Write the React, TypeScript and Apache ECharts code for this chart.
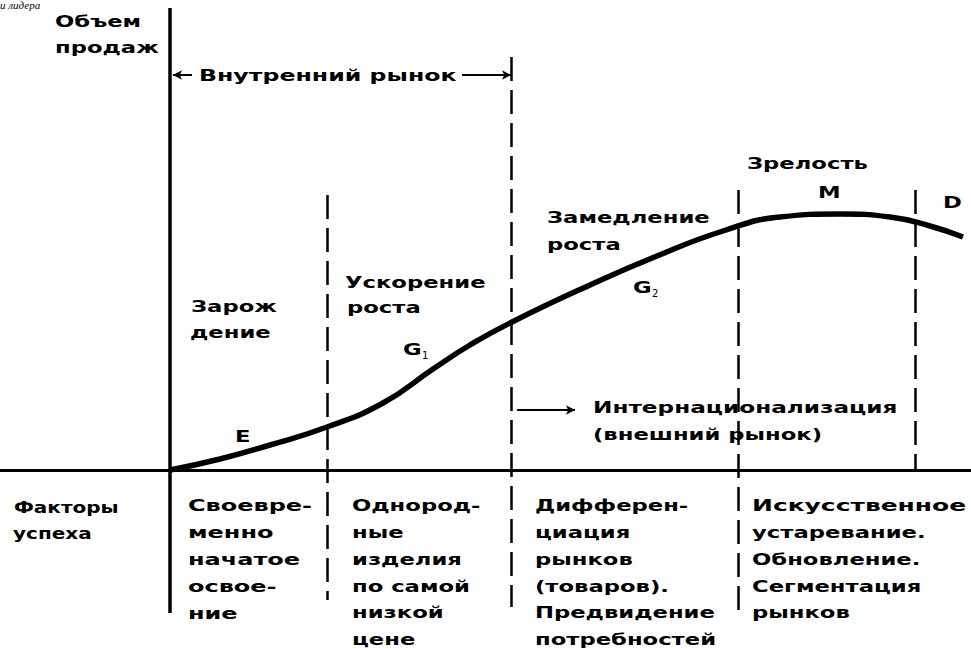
import { useEffect, useRef } from "react";
import * as echarts from "echarts";

// ---- data (time units along x, sales volume along y) ----
const timeT = [0, 0.5, 1.0, 1.57, 2.13, 2.63, 3.0, 3.42, 4.2, 4.87, 5.53, 6.1, 6.7, 7.2, 7.6, 7.93];
const salesVolume = [0, 0.11, 0.25, 0.43, 0.67, 1.01, 1.25, 1.48, 1.85, 2.14, 2.39, 2.53, 2.56, 2.53, 2.44, 2.33];
const stageBounds = [1.57, 3.41, 5.68, 7.45];
const axisTitle = ["Объем", "продаж"];
const stageEmbryo = ["Зарож", "дение"];
const stageGrowth1 = ["Ускорение", "роста"];
const stageGrowth2 = ["Замедление", "роста"];
const stageMaturity = "Зрелость";
const phaseLetters = ["E", "G", "G", "M", "D"];
const phaseSubscripts = ["1", "2"];
const domesticMarket = "Внутренний рынок";
const foreignMarket = ["Интернационализация", "(внешний рынок)"];
const factorsTitle = ["Факторы", "успеха"];
const factorColumns = [
  ["Своевре-", "менно", "начатое", "освое-", "ние"],
  ["Однород-", "ные", "изделия", "по самой", "низкой", "цене"],
  ["Дифферен-", "циация", "рынков", "(товаров).", "Предвидение", "потребностей"],
  ["Искусственное", "устаревание.", "Обновление.", "Сегментация", "рынков"],
];
const captionFragment = "и лидера";

const FONT = "'DejaVu Sans', sans-serif";
const SX = 1.42;

function txt(text: string, x: number, y: number, extra: any = {}) {
  return {
    type: "text",
    x,
    y,
    scaleX: extra.scaleX ?? SX,
    silent: true,
    style: {
      text,
      fill: "#000",
      fontFamily: extra.fontFamily ?? FONT,
      fontWeight: extra.fontWeight ?? "bold",
      fontStyle: extra.fontStyle ?? "normal",
      fontSize: extra.fontSize ?? 16,
      align: "left",
      verticalAlign: "middle",
    },
  };
}

export default function App() {
  const ref = useRef<HTMLDivElement>(null);
  useEffect(() => {
    if (!ref.current) return;
    const chart = echarts.init(ref.current, null, { renderer: "svg" });
    const dash = [24, 9];
    const vLine = (t: number, top: number, bottom: number, solid = false) => [
      { coord: [t, top], lineStyle: { color: "#000", width: solid ? 3.5 : 2.5, type: solid ? "solid" : dash } },
      { coord: [t, bottom] },
    ];
    const arrow = (t1: number, t2: number, s: number) => [
      { coord: [t1, s], symbol: "none", lineStyle: { color: "#000", width: 2, type: "solid" } },
      { coord: [t2, s], symbol: "arrow", symbolSize: [7, 9] },
    ];

    const graphics: any[] = [];
    graphics.push(txt(captionFragment, 0, 5, { fontFamily: "'Liberation Serif', serif", fontStyle: "italic", fontWeight: "normal", fontSize: 11, scaleX: 1 }));
    graphics.push(txt(axisTitle[0], 55, 22));
    graphics.push(txt(axisTitle[1], 55, 48));
    graphics.push(txt(domesticMarket, 199, 75, { scaleX: 1.48 }));
    graphics.push(txt(stageEmbryo[0], 191, 307));
    graphics.push(txt(stageEmbryo[1], 190, 333));
    graphics.push(txt(stageGrowth1[0], 345, 283));
    graphics.push(txt(stageGrowth1[1], 347, 308));
    graphics.push(txt(stageGrowth2[0], 547, 218));
    graphics.push(txt(stageGrowth2[1], 547, 245));
    graphics.push(txt(stageMaturity, 747, 164));
    graphics.push(txt(phaseLetters[0], 235, 437));
    graphics.push(txt(phaseLetters[1], 403, 350));
    graphics.push(txt(phaseSubscripts[0], 422, 355, { fontSize: 10, fontWeight: "normal", scaleX: 1 }));
    graphics.push(txt(phaseLetters[2], 633, 288));
    graphics.push(txt(phaseSubscripts[1], 652, 293, { fontSize: 10, fontWeight: "normal", scaleX: 1 }));
    graphics.push(txt(phaseLetters[3], 818, 193));
    graphics.push(txt(phaseLetters[4], 943, 203));
    graphics.push(txt(foreignMarket[0], 593, 408, { scaleX: 1.45 }));
    graphics.push(txt(foreignMarket[1], 593, 435));
    graphics.push(txt(factorsTitle[0], 14, 507, { scaleX: 1.25 }));
    graphics.push(txt(factorsTitle[1], 13, 533, { scaleX: 1.25 }));
    const colX = [188, 352, 535, 752];
    factorColumns.forEach((col, ci) => {
      col.forEach((line, ri) => {
        const sx = ci === 3 && ri === 0 ? 1.56 : ci === 0 ? 1.5 : SX;
        graphics.push(txt(line, colX[ci], 506 + ri * 26.8, { scaleX: sx }));
      });
    });

    chart.setOption({
      animation: false,
      backgroundColor: "#fff",
      grid: { left: 0, right: 0, top: 0, bottom: 0, containLabel: false },
      xAxis: {
        type: "value",
        min: -1.7,
        max: 8.01,
        axisLine: { show: true, onZero: true, lineStyle: { color: "#000", width: 3 } },
        axisTick: { show: false },
        axisLabel: { show: false },
        splitLine: { show: false },
      },
      yAxis: {
        type: "value",
        min: -1.79,
        max: 4.7,
        axisLine: { show: false },
        axisTick: { show: false },
        axisLabel: { show: false },
        splitLine: { show: false },
      },
      series: [
        {
          type: "line",
          data: timeT.map((t, i) => [t, salesVolume[i]]),
          smooth: 0.5,
          symbol: "none",
          lineStyle: { color: "#000", width: 5.5 },
          markLine: {
            silent: true,
            symbol: ["none", "none"],
            label: { show: false },
            emphasis: { disabled: true },
            data: [
              vLine(0, 4.62, -1.43, true),
              vLine(stageBounds[0], 2.75, -1.3),
              vLine(stageBounds[1], 4.13, -1.37),
              vLine(stageBounds[2], 2.8, -1.47),
              vLine(stageBounds[3], 2.8, 0),
              arrow(2.92, 3.41, 3.95),
              arrow(0.22, 0.03, 3.95),
              arrow(3.47, 4.05, 0.6),
            ],
          },
        },
      ],
      graphic: graphics,
    });
    return () => chart.dispose();
  }, []);
  return (
    <div
      ref={ref}
      style={{ position: "fixed", left: 0, top: 0, width: 971, height: 649, background: "#fff" }}
    />
  );
}
